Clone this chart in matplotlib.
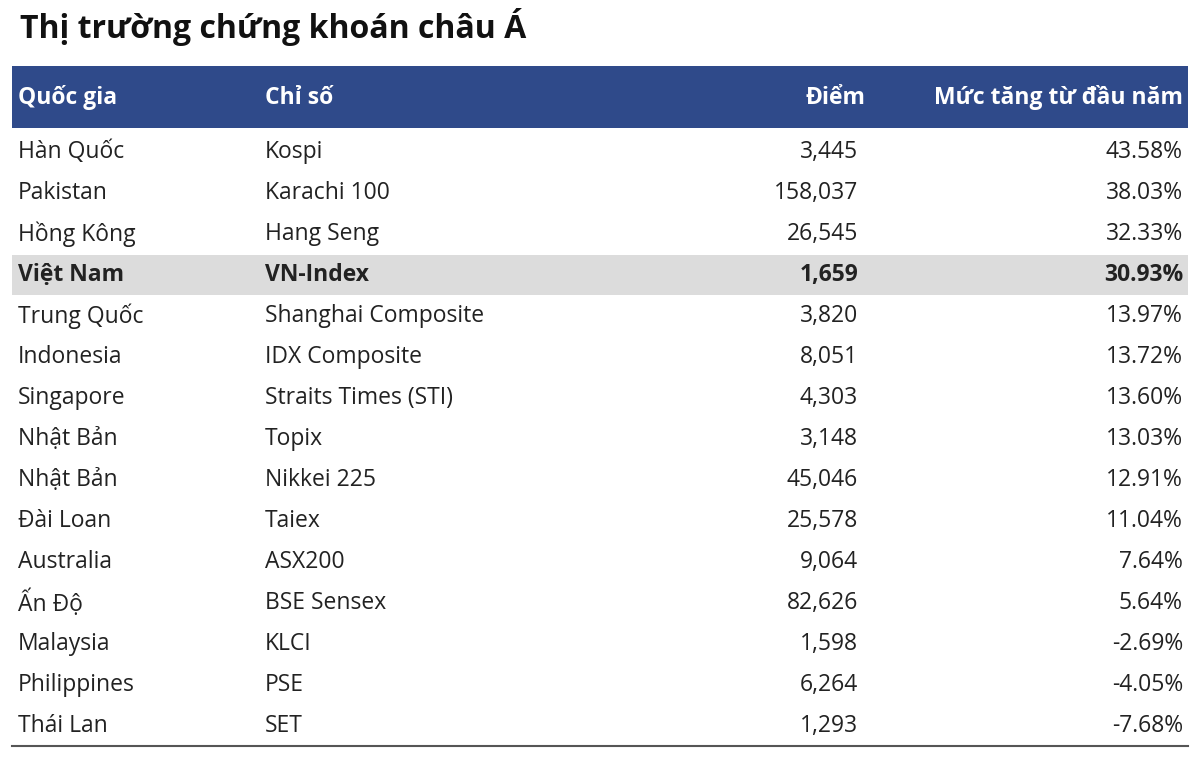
import matplotlib
matplotlib.use("Agg")
import matplotlib.pyplot as plt
from matplotlib.patches import Rectangle

title = "Thị trường chứng khoán châu Á"
headers = ["Quốc gia", "Chỉ số", "Điểm", "Mức tăng từ đầu năm"]
countries = ["Hàn Quốc", "Pakistan", "Hồng Kông", "Việt Nam", "Trung Quốc", "Indonesia",
             "Singapore", "Nhật Bản", "Nhật Bản", "Đài Loan", "Australia", "Ấn Độ",
             "Malaysia", "Philippines", "Thái Lan"]
indices = ["Kospi", "Karachi 100", "Hang Seng", "VN-Index", "Shanghai Composite",
           "IDX Composite", "Straits Times (STI)", "Topix", "Nikkei 225", "Taiex",
           "ASX200", "BSE Sensex", "KLCI", "PSE", "SET"]
points = ["3,445", "158,037", "26,545", "1,659", "3,820", "8,051", "4,303", "3,148",
          "45,046", "25,578", "9,064", "82,626", "1,598", "6,264", "1,293"]
ytd = ["43.58%", "38.03%", "32.33%", "30.93%", "13.97%", "13.72%", "13.60%", "13.03%",
       "12.91%", "11.04%", "7.64%", "5.64%", "-2.69%", "-4.05%", "-7.68%"]
highlight = "Việt Nam"

plt.rcParams['font.family'] = ['Open Sans', 'DejaVu Sans']
fig = plt.figure(figsize=(12, 7.57), dpi=100)
ax = fig.add_axes([0, 0, 1, 1])
ax.set_xlim(0, 1200); ax.set_ylim(757, 0); ax.axis('off')

ax.text(20, 27, title, fontsize=23, fontweight='bold', va='center', ha='left', color='#111111')
ax.add_patch(Rectangle((12, 66), 1176, 62, color='#2F4A8A', lw=0))
hx = [18, 265, 865, 1183]; ha = ['left', 'left', 'right', 'right']
for h, x, a in zip(headers, hx, ha):
    ax.text(x, 98, h, fontsize=16.5, fontweight='bold', color='white', ha=a, va='center')

y0, dy = 152, 41
cx = [18, 265, 858, 1183]
for i, row in enumerate(zip(countries, indices, points, ytd)):
    y = y0 + i * dy
    bold = row[0] == highlight
    if bold:
        ax.add_patch(Rectangle((12, y - 20), 1176, 40, color='#DCDCDC', lw=0))
    for v, x, a in zip(row, cx, ha):
        ax.text(x, y, v, fontsize=16.5, color='#222222', ha=a, va='center',
                fontweight='bold' if bold else 'normal')
ax.plot([12, 1188], [746, 746], color='#555555', lw=1.5)
fig.savefig("out.png", dpi=100)
